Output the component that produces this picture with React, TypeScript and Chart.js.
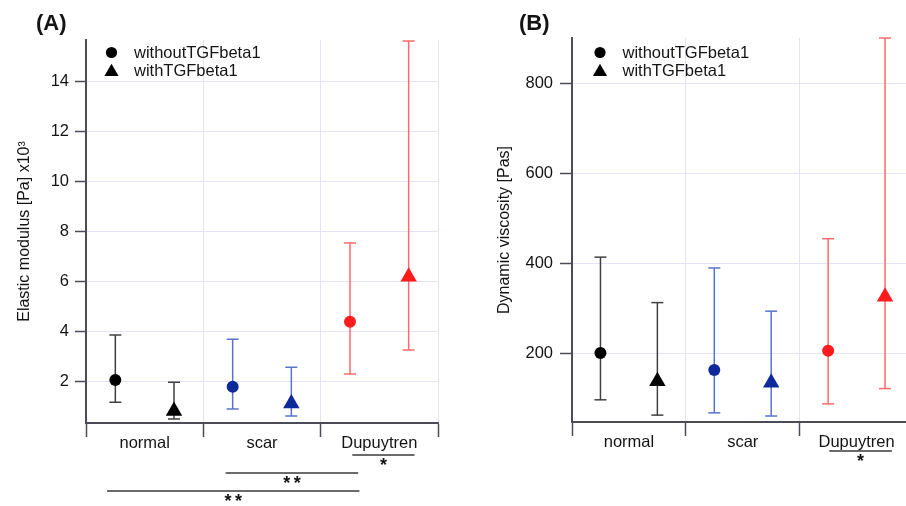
import React, { useEffect, useRef } from 'react';
import { Chart, registerables } from 'chart.js';

Chart.register(...registerables);

const FONT = "'Liberation Sans', Arial, Helvetica, sans-serif";
const TEXT = '#141414';
const AXIS = '#4c4c58';
const GRID = '#e3e3f7';
const SIG = '#3a3a3a';

// ---------- shared ----------
const categories = ['normal', 'scar', 'Dupuytren'];
const seriesNames = ['withoutTGFbeta1', 'withTGFbeta1'];
const markerColors = ['#000000', '#0c2a9a', '#ff1c1c'];
const errorColors = ['#404040', '#5a72c9', '#ff6a6a'];

// ---------- Panel A: elastic modulus (x10^3 Pa) ----------
const elasticWithout = [2.04, 1.77, 4.37];
const elasticWithoutLow = [1.15, 0.88, 2.28];
const elasticWithoutHigh = [3.84, 3.67, 7.52];
const elasticWith = [0.8, 1.1, 6.17];
const elasticWithLow = [0.48, 0.6, 3.24];
const elasticWithHigh = [1.95, 2.55, 15.6];
const elasticTicks = [2, 4, 6, 8, 10, 12, 14];
const elasticSigFrom = [2.27, 1.19, 0.18];
const elasticSigTo = [2.8, 2.32, 2.33];
const elasticSigLabel = ['*', '**', '**'];

// ---------- Panel B: dynamic viscosity (Pas) ----------
const viscosityWithout = [200, 162, 205];
const viscosityWithoutLow = [96, 67, 87];
const viscosityWithoutHigh = [413, 389, 454];
const viscosityWith = [137, 134, 325];
const viscosityWithLow = [62, 60, 121];
const viscosityWithHigh = [312, 293, 900];
const viscosityTicks = [200, 400, 600, 800];
const viscositySigFrom = [2.26];
const viscositySigTo = [2.81];
const viscositySigLabel = ['*'];

const xTickValues: number[] = [];
for (let i = 0; i <= categories.length * 2; i++) xTickValues.push(i / 2);

const annotatePlugin = {
  id: 'annotate',
  afterDraw(chart: any, _args: any, opts: any) {
    const { ctx, chartArea, scales } = chart;
    const xs = scales.x;
    ctx.save();
    // panel tag
    ctx.fillStyle = TEXT;
    ctx.font = `bold 22px ${FONT}`;
    ctx.textAlign = 'left';
    ctx.textBaseline = 'middle';
    ctx.fillText(opts.tag, opts.tagX, opts.tagY);

    // legend
    ctx.font = `16.5px ${FONT}`;
    ctx.textBaseline = 'alphabetic';
    const lx = opts.legendX;
    const ly = opts.legendY;
    ctx.beginPath();
    ctx.arc(lx, ly, 5.6, 0, Math.PI * 2);
    ctx.fillStyle = '#000';
    ctx.fill();
    const ty = ly + 19.5;
    const r = 8.2;
    ctx.beginPath();
    ctx.moveTo(lx, ty - r);
    ctx.lineTo(lx + r * Math.sin((2 * Math.PI) / 3), ty + r / 2);
    ctx.lineTo(lx - r * Math.sin((2 * Math.PI) / 3), ty + r / 2);
    ctx.closePath();
    ctx.fill();
    ctx.fillStyle = TEXT;
    ctx.fillText(seriesNames[0], lx + 22.5, ly + 5);
    ctx.fillText(seriesNames[1], lx + 22.5, ly + 23.5);

    // significance brackets
    ctx.strokeStyle = SIG;
    ctx.lineWidth = 1.3;
    ctx.textAlign = 'center';
    ctx.font = `bold 18px ${FONT}`;
    opts.sigFrom.forEach((from: number, i: number) => {
      const y = chartArea.bottom + opts.sigTop + i * opts.sigStep;
      const x1 = xs.getPixelForValue(from);
      const x2 = xs.getPixelForValue(opts.sigTo[i]);
      ctx.beginPath();
      ctx.moveTo(x1, y);
      ctx.lineTo(x2, y);
      ctx.stroke();
      ctx.fillStyle = TEXT;
      const label: string = opts.sigLabel[i];
      const cx = (x1 + x2) / 2;
      const gap = 10.5;
      for (let k = 0; k < label.length; k++) {
        const px = cx + (k - (label.length - 1) / 2) * gap;
        ctx.fillText(label[k], px, y + 16);
      }
    });
    ctx.restore();
  },
};

function buildConfig(p: any): any {
  const datasets: any[] = [];
  datasets.push({
    label: seriesNames[0],
    data: p.without.map((v: number, i: number) => ({ x: i + 0.25, y: v })),
    pointStyle: 'circle',
    pointRadius: 6,
    pointBackgroundColor: markerColors,
    pointBorderColor: markerColors,
    pointBorderWidth: 0,
    showLine: false,
    order: 0,
  });
  datasets.push({
    label: seriesNames[1],
    data: p.with.map((v: number, i: number) => ({ x: i + 0.75, y: v })),
    pointStyle: 'triangle',
    pointRadius: 9.5,
    pointBackgroundColor: markerColors,
    pointBorderColor: markerColors,
    pointBorderWidth: 0,
    showLine: false,
    order: 0,
  });
  const addErr = (x: number, lo: number, hi: number, color: string) => {
    datasets.push({
      label: 'err',
      data: [
        { x, y: lo },
        { x, y: hi },
      ],
      showLine: true,
      borderColor: color,
      borderWidth: 1.5,
      pointStyle: 'line',
      pointRadius: 6,
      pointBorderColor: color,
      pointBorderWidth: 1.5,
      pointBackgroundColor: color,
      order: 1,
      clip: false,
    });
  };
  categories.forEach((_c, i) => {
    addErr(i + 0.25, p.withoutLow[i], p.withoutHigh[i], errorColors[i]);
    addErr(i + 0.75, p.withLow[i], p.withHigh[i], errorColors[i]);
  });

  const isBoundary = (ctx: any) => ctx.tick && Number.isInteger(ctx.tick.value);

  return {
    type: 'scatter',
    data: { datasets },
    plugins: [annotatePlugin],
    options: {
      responsive: false,
      animation: false,
      events: [],
      layout: { padding: { top: p.top, left: 0, right: p.right, bottom: 0 } },
      font: { family: FONT },
      plugins: {
        legend: { display: false },
        tooltip: { enabled: false },
        annotate: {
          tag: p.tag,
          tagX: p.tagX,
          tagY: 24,
          legendX: p.legendX,
          legendY: 52.5,
          sigFrom: p.sigFrom,
          sigTo: p.sigTo,
          sigLabel: p.sigLabel,
          sigTop: p.sigTop,
          sigStep: 18,
        },
      },
      scales: {
        x: {
          type: 'linear',
          min: 0,
          max: categories.length,
          afterFit: (s: any) => {
            s.height = p.xAxisHeight;
          },
          afterBuildTicks: (s: any) => {
            s.ticks = xTickValues.map((v) => ({ value: v }));
          },
          grid: {
            color: (ctx: any) => (isBoundary(ctx) ? GRID : 'rgba(0,0,0,0)'),
            tickColor: (ctx: any) => (isBoundary(ctx) ? AXIS : 'rgba(0,0,0,0)'),
            tickLength: 14,
            tickWidth: 1.5,
            lineWidth: 1,
          },
          border: { display: true, color: AXIS, width: 2 },
          ticks: {
            autoSkip: false,
            maxRotation: 0,
            padding: -3,
            color: TEXT,
            font: { family: FONT, size: 16.5 },
            callback: (v: number) => {
              const i = v - 0.5;
              return Number.isInteger(i) ? categories[i] : '';
            },
          },
        },
        y: {
          type: 'linear',
          min: p.yMin,
          max: p.yMax,
          afterFit: (s: any) => {
            s.width = p.yAxisWidth;
          },
          afterBuildTicks: (s: any) => {
            s.ticks = p.ticks.map((v: number) => ({ value: v }));
          },
          grid: {
            color: GRID,
            tickColor: AXIS,
            tickLength: p.yTickLength,
            tickWidth: 1.5,
            lineWidth: 1,
          },
          border: { display: true, color: AXIS, width: 2 },
          ticks: {
            padding: p.yTickPad,
            color: TEXT,
            font: { family: FONT, size: 16.5 },
            callback: (v: number) => String(v),
          },
          title: {
            display: true,
            text: p.title,
            color: TEXT,
            font: { family: FONT, size: 16 },
            padding: { top: p.titlePad, bottom: 0 },
          },
        },
      },
    },
  };
}

function Panel({ params, left, width }: { params: any; left: number; width: number }) {
  const ref = useRef<HTMLCanvasElement>(null);
  useEffect(() => {
    const chart = new Chart(ref.current as HTMLCanvasElement, buildConfig(params));
    return () => chart.destroy();
  }, []);
  return (
    <canvas
      ref={ref}
      width={width}
      height={506}
      style={{ position: 'absolute', left, top: 0, width, height: 506 }}
    />
  );
}

const paramsA = {
  tag: '(A)',
  tagX: 36,
  legendX: 111.5,
  without: elasticWithout,
  withoutLow: elasticWithoutLow,
  withoutHigh: elasticWithoutHigh,
  with: elasticWith,
  withLow: elasticWithLow,
  withHigh: elasticWithHigh,
  ticks: elasticTicks,
  yMin: 0.32,
  yMax: 15.64,
  title: 'Elastic modulus [Pa] x10³',
  sigFrom: elasticSigFrom,
  sigTo: elasticSigTo,
  sigLabel: elasticSigLabel,
  sigTop: 32,
  top: 40,
  right: 15,
  yAxisWidth: 86,
  xAxisHeight: 83,
  yTickLength: 11,
  yTickPad: 6,
  titlePad: 15,
};

const paramsB = {
  tag: '(B)',
  tagX: 66,
  legendX: 147,
  without: viscosityWithout,
  withoutLow: viscosityWithoutLow,
  withoutHigh: viscosityWithoutHigh,
  with: viscosityWith,
  withLow: viscosityWithLow,
  withHigh: viscosityWithHigh,
  ticks: viscosityTicks,
  yMin: 46.7,
  yMax: 900,
  title: 'Dynamic viscosity [Pas]',
  sigFrom: viscositySigFrom,
  sigTo: viscositySigTo,
  sigLabel: viscositySigLabel,
  sigTop: 29,
  top: 38,
  right: 9,
  yAxisWidth: 119,
  xAxisHeight: 84,
  yTickLength: 12,
  yTickPad: 7,
  titlePad: 42,
};

export default function App() {
  return (
    <div
      style={{
        position: 'fixed',
        left: 0,
        top: 0,
        width: 906,
        height: 506,
        overflow: 'hidden',
        background: '#ffffff',
      }}
    >
      <Panel params={paramsA} left={0} width={453} />
      <Panel params={paramsB} left={453} width={470} />
    </div>
  );
}
